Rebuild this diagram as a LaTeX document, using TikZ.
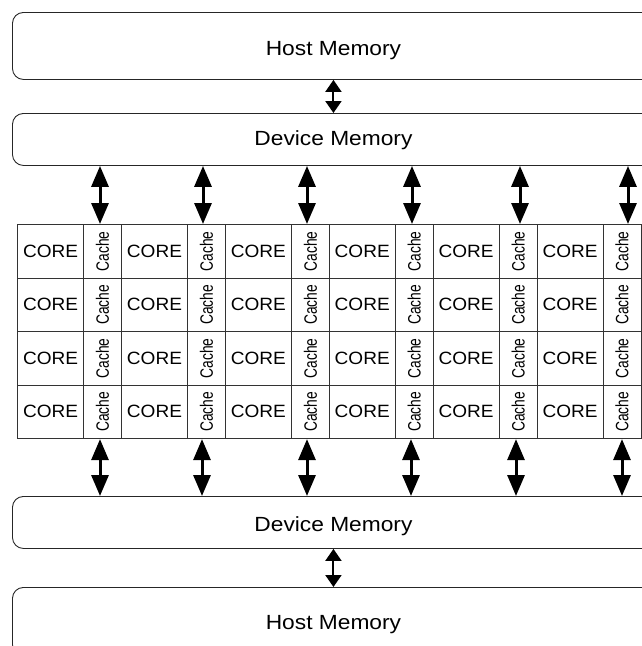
\documentclass[tikz,border=0pt]{standalone}
\usepackage{fontspec}
\setmainfont{Liberation Sans}
\usepackage{graphicx}
\usetikzlibrary{arrows.meta}
\newcommand{\memtext}[1]{\scalebox{1.11}[1]{#1}}
\newcommand{\coretext}[1]{\scalebox{1.07}[1]{#1}}
\newcommand{\cachetext}[1]{\rotatebox{90}{\scalebox{1}[1.3]{#1}}}
\begin{document}
\begin{tikzpicture}[x=1pt,y=-1pt,
  membox/.style={draw=black!85, line width=0.9pt, rounded corners=11pt,
    minimum width=642pt, inner sep=0pt, anchor=north west, text depth=0pt,
    font=\fontsize{20.5}{24}\selectfont},
  corecell/.style={draw=black!80, line width=1.1pt, minimum width=66pt,
    minimum height=53.5pt, inner sep=0pt, anchor=north west,
    font=\fontsize{17.8}{20}\selectfont},
  cachecell/.style={corecell, minimum width=38pt,
    font=\fontsize{13.8}{16}\selectfont},
  link/.style={line width=3pt,
    {Triangle[width=17pt,length=21pt]}-{Triangle[width=17pt,length=21pt]}},
  hostlink/.style={line width=2pt,
    {Triangle[width=16pt,length=12pt]}-{Triangle[width=16pt,length=12pt]}}
]
\useasboundingbox (0,0) rectangle (642,646);
\clip (0,0) rectangle (642,646);

% memory levels (they run past the right edge)
\node[membox, minimum height=67pt, text height=19.7pt] (hosttop) at (12,12) {\memtext{Host Memory}};
\node[membox, minimum height=52pt, text height=12pt] (devtop) at (12,113) {\memtext{Device Memory}};
\node[membox, minimum height=52pt, text height=18.7pt] (devbot) at (12,496) {\memtext{Device Memory}};
\node[membox, minimum height=68pt, text height=16.7pt] (hostbot) at (12,587) {\memtext{Host Memory}};

% core / cache grid
\foreach \c in {0,...,5}{
  \foreach \r in {0,...,3}{
    \node[corecell] (core-\r-\c) at ({17+103.9*\c},{224+53.5*\r}) {\coretext{CORE}};
    \node[cachecell] (cache-\r-\c) at ({83+103.9*\c},{224+53.5*\r}) {\cachetext{Cache}};
  }
}

% host <-> device
\draw[hostlink] (hosttop.south) -- (devtop.north);
\draw[hostlink] (devbot.south) -- (hostbot.north);

% device <-> grid columns
\foreach \x [count=\i from 0] in {100,203,307,412,520,628}{
  \coordinate (tx\i) at (\x,0);
  \draw[link] (devtop.south -| tx\i) -- (cache-0-\i.north -| tx\i);
}
\foreach \x [count=\i from 0] in {100,202,307,411,516,622}{
  \coordinate (bx\i) at (\x,0);
  \draw[link] (cache-3-\i.south -| bx\i) -- (devbot.north -| bx\i);
}
\end{tikzpicture}
\end{document}
